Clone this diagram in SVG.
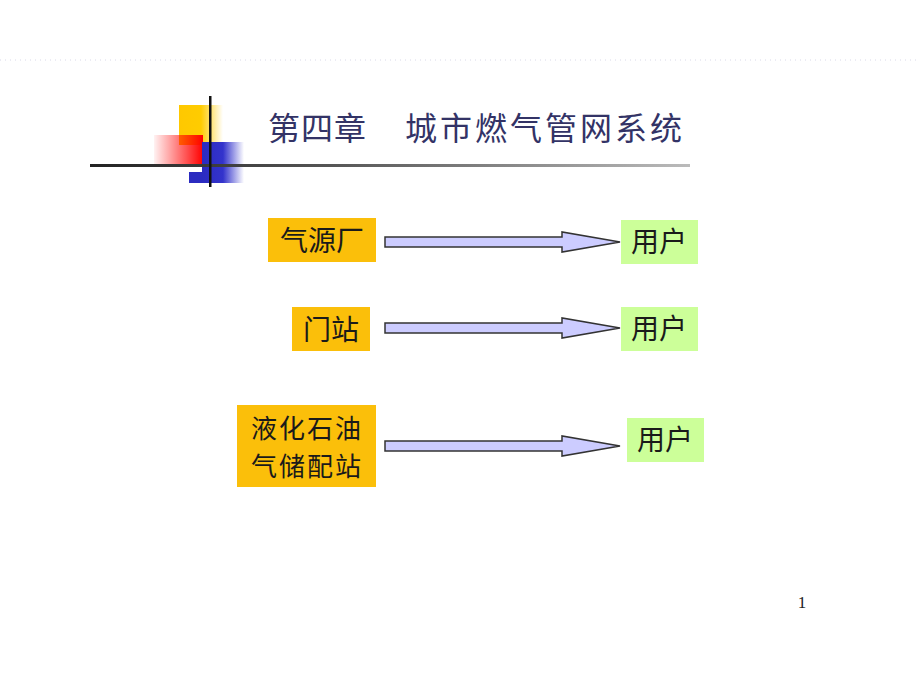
<svg xmlns="http://www.w3.org/2000/svg" width="920" height="690" viewBox="0 0 920 690">
<defs>
<style>
.t{font-family:"Noto Sans CJK SC","Liberation Serif",sans-serif;fill:#1a1a1a;text-anchor:middle}
.ttl{font-family:"Noto Sans CJK SC",sans-serif;font-size:32px;fill:#333366}
.src{fill:#FBBF0A}
.usr{fill:#CCFF99}
.arr{fill:#CCCCFF;stroke:#333333;stroke-width:1.5}
</style>
<linearGradient id="gy" x1="0" x2="1" y1="0" y2="0"><stop offset="0" stop-color="#FFC800"/><stop offset="0.5" stop-color="#FFCC00"/><stop offset="1" stop-color="#FFCC00" stop-opacity="0"/></linearGradient>
<linearGradient id="gr" x1="0" x2="1" y1="0" y2="0"><stop offset="0" stop-color="#FF0000" stop-opacity="0.05"/><stop offset="1" stop-color="#FF0000"/></linearGradient>
<linearGradient id="gb" x1="0" x2="1" y1="0" y2="0"><stop offset="0" stop-color="#2B2BC0"/><stop offset="0.5" stop-color="#3333CC"/><stop offset="1" stop-color="#3333CC" stop-opacity="0"/></linearGradient>
<linearGradient id="gl" x1="0" x2="1" y1="0" y2="0"><stop offset="0" stop-color="#222222"/><stop offset="0.4" stop-color="#555555"/><stop offset="1" stop-color="#BBBBBB"/></linearGradient>
</defs>
<rect width="920" height="690" fill="#FFFFFF"/>
<line x1="0" y1="60" x2="920" y2="60" stroke="#D8D8E8" stroke-width="1" stroke-dasharray="1 4"/>
<g id="logo">
<rect x="179" y="105" width="44" height="40" fill="url(#gy)"/>
<rect x="154" y="135" width="49" height="32" fill="url(#gr)"/>
<rect x="202" y="142" width="42" height="41" fill="url(#gb)"/>
<rect x="189" y="172" width="14" height="11" fill="#2B2BC0"/>
<rect x="90" y="164" width="600" height="3" fill="url(#gl)"/>
<rect x="209" y="96" width="2.5" height="91" fill="#111111"/>
</g>
<g id="title">
<text class="ttl" x="268" y="140" letter-spacing="1">第四章</text>
<text class="ttl" x="405" y="140" letter-spacing="3">城市燃气管网系统</text>
</g>
<g id="connectors">
<path class="arr" d="M385,237 H562 V232 L620,242 L562,252 V247 H385 Z"/>
<path class="arr" d="M385,323 H562 V318 L620,328 L562,338 V333 H385 Z"/>
<path class="arr" d="M385,441 H562 V436 L620,446 L562,456 V451 H385 Z"/>
</g>
<g id="n1"><rect class="src" x="268" y="218" width="108" height="44"/><text class="t" x="322" y="251" font-size="28">气源厂</text></g>
<g id="n2"><rect class="src" x="292" y="307" width="78" height="44"/><text class="t" x="331" y="340" font-size="28">门站</text></g>
<g id="n3"><rect class="src" x="237" y="405" width="139" height="82"/><text class="t" x="306" y="438" font-size="26" letter-spacing="2"><tspan x="307" y="438">液化石油</tspan><tspan x="307" y="476">气储配站</tspan></text></g>
<g id="u1"><rect class="usr" x="621" y="220" width="77" height="44"/><text class="t" x="659" y="252" font-size="28">用户</text></g>
<g id="u2"><rect class="usr" x="621" y="307" width="77" height="44"/><text class="t" x="659" y="339" font-size="28">用户</text></g>
<g id="u3"><rect class="usr" x="627" y="418" width="77" height="44"/><text class="t" x="665" y="450" font-size="28">用户</text></g>
<text x="802" y="608" style="font-family:'Liberation Serif',serif;font-size:17px;fill:#222222" text-anchor="middle">1</text>
</svg>
